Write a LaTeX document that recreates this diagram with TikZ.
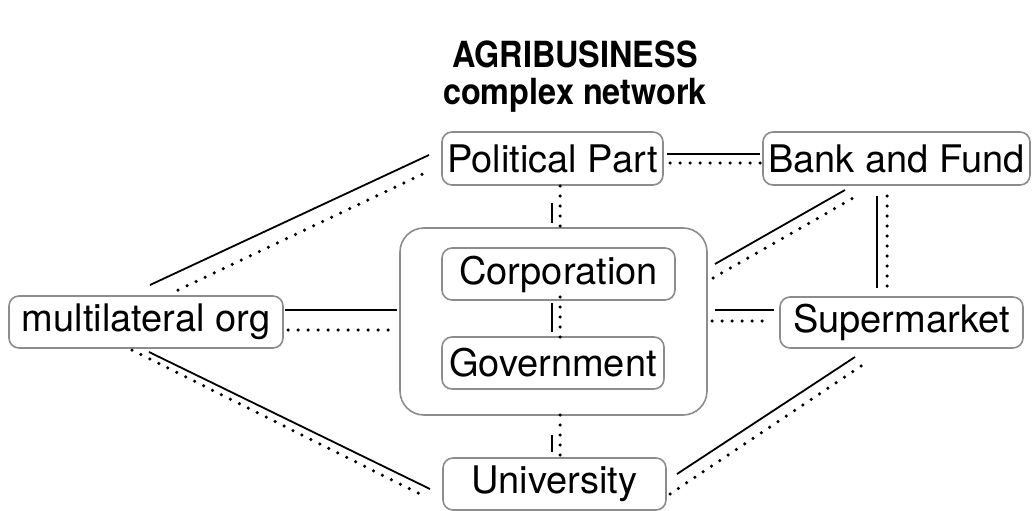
\documentclass[tikz,border=0pt]{standalone}
\usepackage{fontspec}
\setmainfont{TeX Gyre Heros}
\definecolor{boxgray}{HTML}{8C8C8C}
\tikzset{
  box/.style={draw=boxgray, line width=1.6pt, rounded corners=10pt, inner sep=0pt,
    font=\fontsize{38}{40}\selectfont},
  solidlink/.style={line width=1.8pt},
  dotlink/.style={line width=3.5pt, line cap=round, dash pattern=on 0pt off 10pt},
  titletext/.style={font=\bfseries\fontsize{36}{36}\selectfont, inner sep=0pt, anchor=base},
}
\begin{document}
\begin{tikzpicture}[x=1pt,y=-1pt]
\useasboundingbox (0,0) rectangle (1034,511);
% title
\node[titletext] (title1) at (575,68) {\scalebox{0.9}[1]{AGRIBUSINESS}};
\node[titletext] (title2) at (575,104) {\scalebox{0.9}[1]{complex network}};
% boxes
\node[box, rounded corners=24pt, minimum width=307pt, minimum height=187pt] (core) at (553.5,321.5) {};
\node[box, minimum width=221pt, minimum height=53pt] (pp) at (552.5,158.5) {Political Part};
\node[box, minimum width=267pt, minimum height=53pt] (bf) at (896.5,158.5) {Bank and Fund};
\node[box, minimum width=274pt, minimum height=52pt] (mo) at (146,322) {multilateral org};
\node[box, minimum width=233pt, minimum height=52pt] (corp) at (558.5,274) {Corporation};
\node[box, minimum width=222pt, minimum height=52pt] (gov) at (553,363) {Government};
\node[box, minimum width=243pt, minimum height=51pt] (sm) at (901.5,322.5) {Supermarket};
\node[box, minimum width=223pt, minimum height=52pt] (uni) at (554.5,484) {University};
% connector end points
\coordinate (a1) at (150,285); \coordinate (a2) at (429,155);
\coordinate (a3) at (178,290); \coordinate (a4) at (423,174);
\coordinate (b1) at (667,154); \coordinate (b2) at (760,154);
\coordinate (b3) at (670,163); \coordinate (b4) at (762,163);
\coordinate (c1) at (285,310); \coordinate (c2) at (397,310);
\coordinate (c3) at (288,330); \coordinate (c4) at (397,330);
\coordinate (d1) at (715,310); \coordinate (d2) at (774,310);
\coordinate (d3) at (712,321); \coordinate (d4) at (768,321);
\coordinate (e1) at (715,264); \coordinate (e2) at (845,190);
\coordinate (e3) at (713,278); \coordinate (e4) at (855,197);
\coordinate (f1) at (877,196); \coordinate (f2) at (877,288);
\coordinate (f3) at (887,196); \coordinate (f4) at (887,294);
\coordinate (g1) at (149,352); \coordinate (g2) at (430,489);
\coordinate (g3) at (132,350); \coordinate (g4) at (422,495);
\coordinate (h1) at (677,474); \coordinate (h2) at (855,357);
\coordinate (h3) at (670,494); \coordinate (h4) at (867,362);
\coordinate (i1) at (552,203); \coordinate (i2) at (552,223);
\coordinate (i3) at (560,186); \coordinate (i4) at (560,231);
\coordinate (j1) at (552,303); \coordinate (j2) at (552,332);
\coordinate (j3) at (560,297); \coordinate (j4) at (560,342);
\coordinate (k1) at (552,435); \coordinate (k2) at (552,452);
\coordinate (k3) at (560,415); \coordinate (k4) at (560,458);
% connectors
\foreach \p in {a,b,c,d,e,f,g,h,i,j,k}{
  \draw[solidlink] (\p1) -- (\p2);
  \draw[dotlink] (\p3) -- (\p4);
}
\end{tikzpicture}
\end{document}
